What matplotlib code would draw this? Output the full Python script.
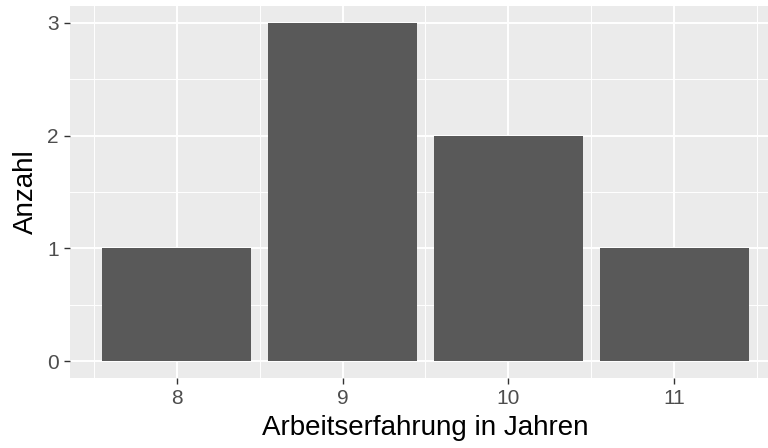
import matplotlib.pyplot as plt
from matplotlib.ticker import MultipleLocator

# data
years = [8, 9, 10, 11]
counts = [1, 3, 2, 1]

plt.rcParams['font.family'] = ['Liberation Sans', 'DejaVu Sans']

fig = plt.figure(figsize=(7.68, 4.48), dpi=100)
# panel runs past the right edge like in the reference
ax = fig.add_axes([70/768, 1 - 378/448, 711/768, 372/448])
ax.set_facecolor('#EBEBEB')

ax.bar(years, counts, width=0.9, color='#595959', zorder=3)

ax.set_xlim(7.355, 11.645)
ax.set_ylim(-0.15, 3.15)
ax.set_xticks(years)
ax.set_yticks([0, 1, 2, 3])
ax.xaxis.set_minor_locator(MultipleLocator(1, offset=0.5))
ax.yaxis.set_minor_locator(MultipleLocator(1, offset=0.5))

ax.grid(which='major', color='white', linewidth=1.4, zorder=0)
ax.grid(which='minor', color='white', linewidth=0.7, zorder=0)
ax.set_axisbelow(True)
for s in ax.spines.values():
    s.set_visible(False)

ax.tick_params(which='major', length=4, width=1, color='#333333',
               labelcolor='#4D4D4D', labelsize=15, pad=4)
ax.tick_params(which='minor', length=0)

ax.set_xlabel('Arbeitserfahrung in Jahren', fontsize=20, color='black', labelpad=5)
ax.set_ylabel('Anzahl', fontsize=20, color='black', labelpad=6)

fig.savefig('out.png', dpi=100)
